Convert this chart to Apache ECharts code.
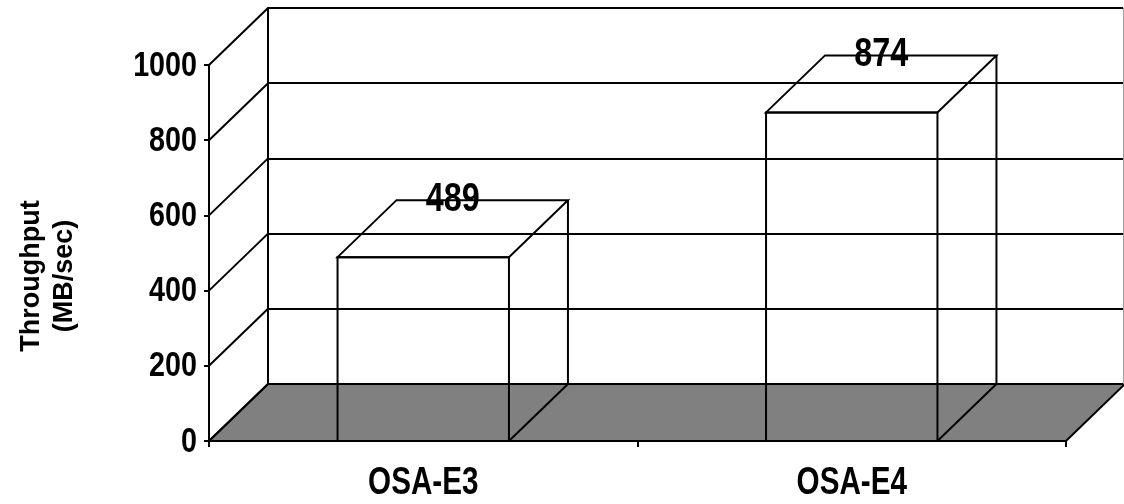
<!DOCTYPE html>
<html>
<head>
<meta charset="utf-8">
<style>
  html, body { margin: 0; padding: 0; background: #ffffff; }
  #chart { width: 1124px; height: 504px; }
</style>
<script src="https://cdn.jsdelivr.net/npm/echarts@6/dist/echarts.min.js"></script>
</head>
<body>
<div id="chart"></div>
<script>
// Chart data
const categories = ['OSA-E3', 'OSA-E4'];
const throughput = [489, 874];
const yTicks = [0, 200, 400, 600, 800, 1000];
const yAxisTitle = 'Throughput\n(MB/sec)';

// Pseudo-3D layout: front plane and back wall, shifted by a depth offset
const FRONT = { left: 209, top: 65, width: 857, height: 376 };
const DX = 59, DY = -57;
const BACK = { left: FRONT.left + DX, top: FRONT.top + DY, width: FRONT.width - 2, height: FRONT.height };
const BAR_RATIO = 0.4;

const FONT = '"Liberation Sans", Arial, sans-serif';
const LINE = '#000000';

// Bold text squeezed horizontally into a narrow face
function narrowText(text, x, y, size, squeeze, align, vAlign) {
  return {
    type: 'text', x: x, y: y, scaleX: squeeze, z2: 10,
    style: {
      text: text, x: 0, y: 0, align: align, verticalAlign: vAlign,
      fill: '#000', fontSize: size, fontWeight: 'bold', fontFamily: FONT
    }
  };
}

const chart = echarts.init(document.getElementById('chart'), null, { renderer: 'canvas' });

const option = {
  animation: false,
  backgroundColor: '#ffffff',
  graphic: [
    {
      type: 'text', x: 48, y: 276, rotation: Math.PI / 2, silent: true,
      style: {
        text: yAxisTitle, align: 'center', verticalAlign: 'middle',
        fill: '#000', fontSize: 27, fontWeight: 'bold', fontFamily: FONT, lineHeight: 33
      }
    }
  ],
  grid: [
    { left: FRONT.left, top: FRONT.top, width: FRONT.width, height: FRONT.height, containLabel: false, outerBoundsMode: 'none' },
    { left: BACK.left, top: BACK.top, width: BACK.width, height: BACK.height, containLabel: false, outerBoundsMode: 'none' }
  ],
  xAxis: [
    {
      type: 'category', gridIndex: 0, data: categories,
      axisLine: { show: true, lineStyle: { color: LINE, width: 2 } },
      axisTick: { show: true, length: 6, lineStyle: { color: LINE, width: 2 } },
      axisLabel: { show: false },
      splitLine: { show: false }
    },
    {
      type: 'category', gridIndex: 1, data: categories, show: false
    }
  ],
  yAxis: [
    {
      type: 'value', gridIndex: 0, min: 0, max: 1000, interval: 200,
      axisLine: { show: true, lineStyle: { color: LINE, width: 2 } },
      axisTick: { show: true, length: 5, lineStyle: { color: LINE, width: 2 } },
      axisLabel: { show: false },
      splitLine: { show: false }
    },
    {
      type: 'value', gridIndex: 1, min: 0, max: 1000, interval: 200,
      axisLine: { show: true, lineStyle: { color: LINE, width: 2 } },
      axisTick: { show: false },
      axisLabel: { show: false },
      splitLine: { show: true, lineStyle: { color: LINE, width: 2 } }
    }
  ],
  series: [
    // Floor of the box and right edge of the back wall
    {
      type: 'custom', xAxisIndex: 0, yAxisIndex: 0, z: 1, silent: true,
      data: [[0, 0]],
      renderItem: function (params, api) {
        const cs = params.coordSys;
        const yb = cs.y + cs.height;
        return {
          type: 'group',
          children: [
            {
              type: 'polygon',
              shape: { points: [[cs.x, yb], [cs.x + cs.width, yb], [cs.x + cs.width + DX, yb + DY], [cs.x + DX, yb + DY]] },
              style: { fill: '#808080', stroke: LINE, lineWidth: 2 }
            },
            {
              type: 'line',
              shape: { x1: cs.x + cs.width + DX - 1.5, y1: cs.y + DY, x2: cs.x + cs.width + DX - 1.5, y2: yb + DY },
              style: { stroke: '#a0a0a0', lineWidth: 1 }
            }
          ]
        };
      }
    },
    // Side wall lines joining front ticks to back gridlines, with tick labels
    {
      type: 'custom', xAxisIndex: 0, yAxisIndex: 0, z: 1, silent: true,
      data: yTicks.map(function (v) { return [0, v]; }),
      renderItem: function (params, api) {
        const cs = params.coordSys;
        const v = api.value(1);
        const p = api.coord([0, v]);
        return {
          type: 'group',
          children: [
            {
              type: 'line',
              shape: { x1: cs.x, y1: p[1], x2: cs.x + DX, y2: p[1] + DY },
              style: { stroke: LINE, lineWidth: 2 }
            },
            narrowText(String(v), cs.x - 12, p[1] + 1, 35, 0.82, 'right', 'middle')
          ]
        };
      }
    },
    // Category labels under the front edge
    {
      type: 'custom', xAxisIndex: 0, yAxisIndex: 0, z: 3, silent: true,
      data: categories.map(function (c, i) { return [i, 0]; }),
      renderItem: function (params, api) {
        const i = api.value(0);
        const p = api.coord([i, 0]);
        return narrowText(categories[i], p[0], p[1] + 43, 38, 0.78, 'center', 'middle');
      }
    },
    // Wireframe boxes with value labels
    {
      type: 'custom', xAxisIndex: 0, yAxisIndex: 0, z: 3, silent: true,
      data: throughput.map(function (v, i) { return [i, v]; }),
      renderItem: function (params, api) {
        const idx = api.value(0);
        const val = api.value(1);
        const top = api.coord([idx, val]);
        const base = api.coord([idx, 0]);
        const w = api.size([1, 0])[0] * BAR_RATIO;
        const x0 = top[0] - w / 2, x1 = top[0] + w / 2;
        const yT = top[1], yB = base[1];
        const st = { fill: 'none', stroke: LINE, lineWidth: 2 };
        return {
          type: 'group',
          children: [
            { type: 'rect', shape: { x: x0, y: yT, width: w, height: yB - yT }, style: st },
            { type: 'polygon', shape: { points: [[x0, yT], [x1, yT], [x1 + DX, yT + DY], [x0 + DX, yT + DY]] }, style: st },
            { type: 'line', shape: { x1: x1 + DX, y1: yT + DY, x2: x1 + DX, y2: yB + DY }, style: st },
            { type: 'line', shape: { x1: x1, y1: yB, x2: x1 + DX, y2: yB + DY }, style: st },
            narrowText(String(val), top[0] + DX / 2, yT + DY, 40, 0.81, 'center', 'middle')
          ]
        };
      }
    }
  ]
};

chart.setOption(option);
</script>
</body>
</html>
